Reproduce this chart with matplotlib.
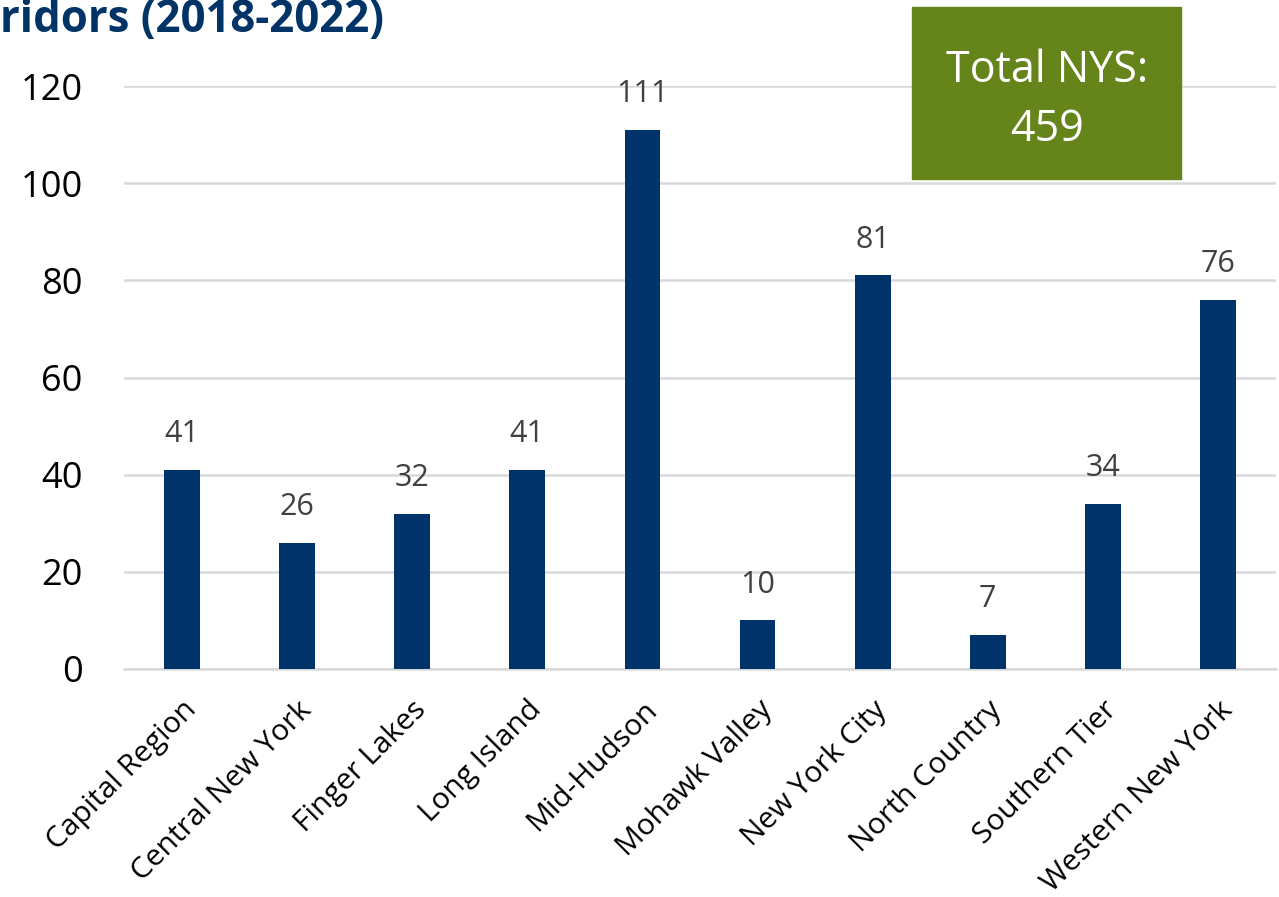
import matplotlib.pyplot as plt

regions = ["Capital Region", "Central New York", "Finger Lakes", "Long Island",
           "Mid-Hudson", "Mohawk Valley", "New York City", "North Country",
           "Southern Tier", "Western New York"]
counts = [41, 26, 32, 41, 111, 10, 81, 7, 34, 76]
y_ticks = [0, 20, 40, 60, 80, 100, 120]
total_text = "Total NYS:\n459"
title_text = "ridors (2018-2022)"

plt.rcParams['font.family'] = ['Open Sans', 'DejaVu Sans']

fig = plt.figure(figsize=(12.79, 8.97), dpi=100)
ax = fig.add_axes([0.0973, 0.2542, 0.9, 0.6499])

x = list(range(len(regions)))
ax.bar(x, counts, width=0.31, color="#00336A", zorder=3)

# value labels above bars
for xi, v in zip(x, counts):
    ax.annotate(str(v), (xi, v), xytext=(0, 15), textcoords="offset points",
                ha="center", va="bottom", fontsize=22, color="#404040")

ax.set_xlim(-0.5, len(regions) - 0.5)
ax.set_ylim(0, 120)
ax.set_yticks(y_ticks)
ax.set_yticklabels([str(t) for t in y_ticks], fontsize=26)
ax.set_xticks(x)
ax.set_xticklabels(regions, rotation=45, ha="right", rotation_mode="anchor",
                   fontsize=21.5)
ax.tick_params(axis="both", length=0)
ax.tick_params(axis="x", pad=19)
ax.tick_params(axis="y", pad=30)

ax.grid(axis="y", color="#D9D9D9", linewidth=1.8, zorder=0)
for s in ["top", "right", "left"]:
    ax.spines[s].set_visible(False)
ax.spines["bottom"].set_color("#D9D9D9")
ax.spines["bottom"].set_linewidth(1.8)

# total box
fig.patches.append(plt.Rectangle((912 / 1279, 1 - 179 / 897), 269 / 1279, 172 / 897,
                                 transform=fig.transFigure, color="#658419",
                                 zorder=5))
fig.text(1047 / 1279, 1 - 100 / 897, total_text, ha="center", va="center",
         fontsize=31, color="white", linespacing=1.42, zorder=6)

fig.text(0.0, 1 - 32 / 897, title_text, ha="left", va="baseline", fontsize=31.5,
         fontweight="bold", color="#003366")

fig.savefig("out.png", dpi=100)
